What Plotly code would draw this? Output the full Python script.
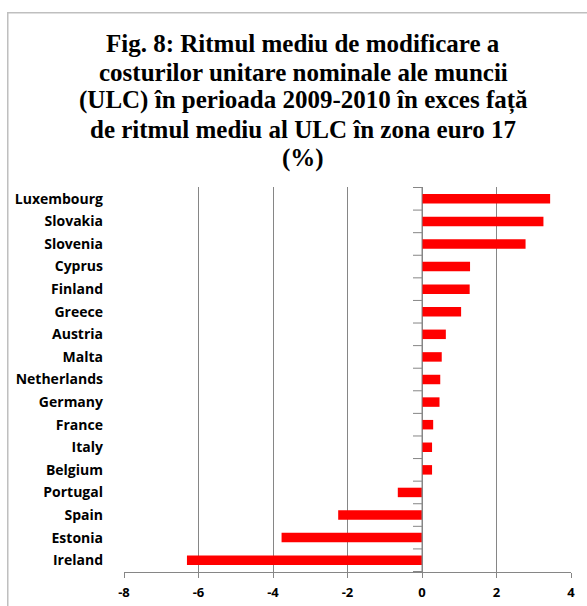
import plotly.graph_objects as go

# countries, top to bottom as shown
countries = ['Luxembourg', 'Slovakia', 'Slovenia', 'Cyprus', 'Finland', 'Greece',
             'Austria', 'Malta', 'Netherlands', 'Germany', 'France', 'Italy',
             'Belgium', 'Portugal', 'Spain', 'Estonia', 'Ireland']
ulc_excess = [3.44, 3.26, 2.78, 1.29, 1.28, 1.05,
              0.64, 0.53, 0.49, 0.47, 0.30, 0.27,
              0.27, -0.65, -2.25, -3.77, -6.31]
x_ticks = [-8, -6, -4, -2, 0, 2, 4]

title_lines = ['Fig. 8: Ritmul mediu de modificare a',
               'costurilor unitare nominale ale muncii',
               '(ULC) în perioada 2009-2010 în exces față',
               'de ritmul mediu al ULC în zona euro 17',
               '(%)']

W, H = 587, 606
plot_l, plot_r, plot_t, plot_b = 123.5, 571.5, 187, 571.7
pw, ph = plot_r - plot_l, plot_b - plot_t


def px_x(p):
    return (p - plot_l) / pw


def px_y(p):
    return (plot_b - p) / ph


fig = go.Figure()
fig.add_trace(go.Bar(
    x=ulc_excess,
    y=countries,
    orientation='h',
    marker=dict(color='#ff0000', line=dict(width=0)),
    hoverinfo='x+y',
))

# category axis line sitting at x=0, with tick marks between categories
shapes = [dict(type='line', xref='x', yref='y', x0=0, x1=0,
               y0=-0.5, y1=len(countries) - 0.5,
               line=dict(color='#868686', width=1))]
for i in range(len(countries) + 1):
    shapes.append(dict(type='line', xref='x', yref='y', xsizemode='pixel', xanchor=0,
                       x0=-9, x1=0, y0=i - 0.5, y1=i - 0.5,
                       line=dict(color='#868686', width=1)))

# outer chart frame (runs past the right/bottom edge of the picture)
shapes.append(dict(type='rect', xref='paper', yref='paper',
                   x0=px_x(7), x1=px_x(600), y0=px_y(620), y1=px_y(13),
                   line=dict(color='#bfbfbf', width=1.5), layer='below'))

# title, one annotation per line to keep the tight line spacing
annotations = []
for n, line in enumerate(title_lines):
    annotations.append(dict(text=line, showarrow=False, xref='paper', yref='paper',
                            x=px_x(303), y=px_y(44 + 28.5 * n),
                            xanchor='center', yanchor='middle',
                            font=dict(family='Liberation Serif', size=25,
                                      color='black', weight='bold')))

fig.update_layout(
    width=W, height=H,
    margin=dict(l=plot_l, r=W - plot_r, t=plot_t, b=H - plot_b),
    paper_bgcolor='white', plot_bgcolor='white',
    showlegend=False,
    bargap=0.58,
    shapes=shapes,
    annotations=annotations,
    xaxis=dict(range=[-8, 4], tickvals=x_ticks, ticktext=[str(v) for v in x_ticks],
               showgrid=True, gridcolor='#868686', gridwidth=1,
               zeroline=False, showline=True, linecolor='#868686', automargin=False,
               ticks='outside', ticklen=5, tickcolor='#868686', ticklabelstandoff=3,
               tickfont=dict(family='Open Sans', size=13, color='black', weight='bold')),
    yaxis=dict(autorange='reversed', showgrid=False, zeroline=False, automargin=False,
               showline=False, ticks='', ticklabelstandoff=20,
               tickfont=dict(family='Open Sans', size=14, color='black', weight='bold')),
)

fig.write_html('out.html', config={'displayModeBar': False},
               post_script="document.body.style.margin='0';")
